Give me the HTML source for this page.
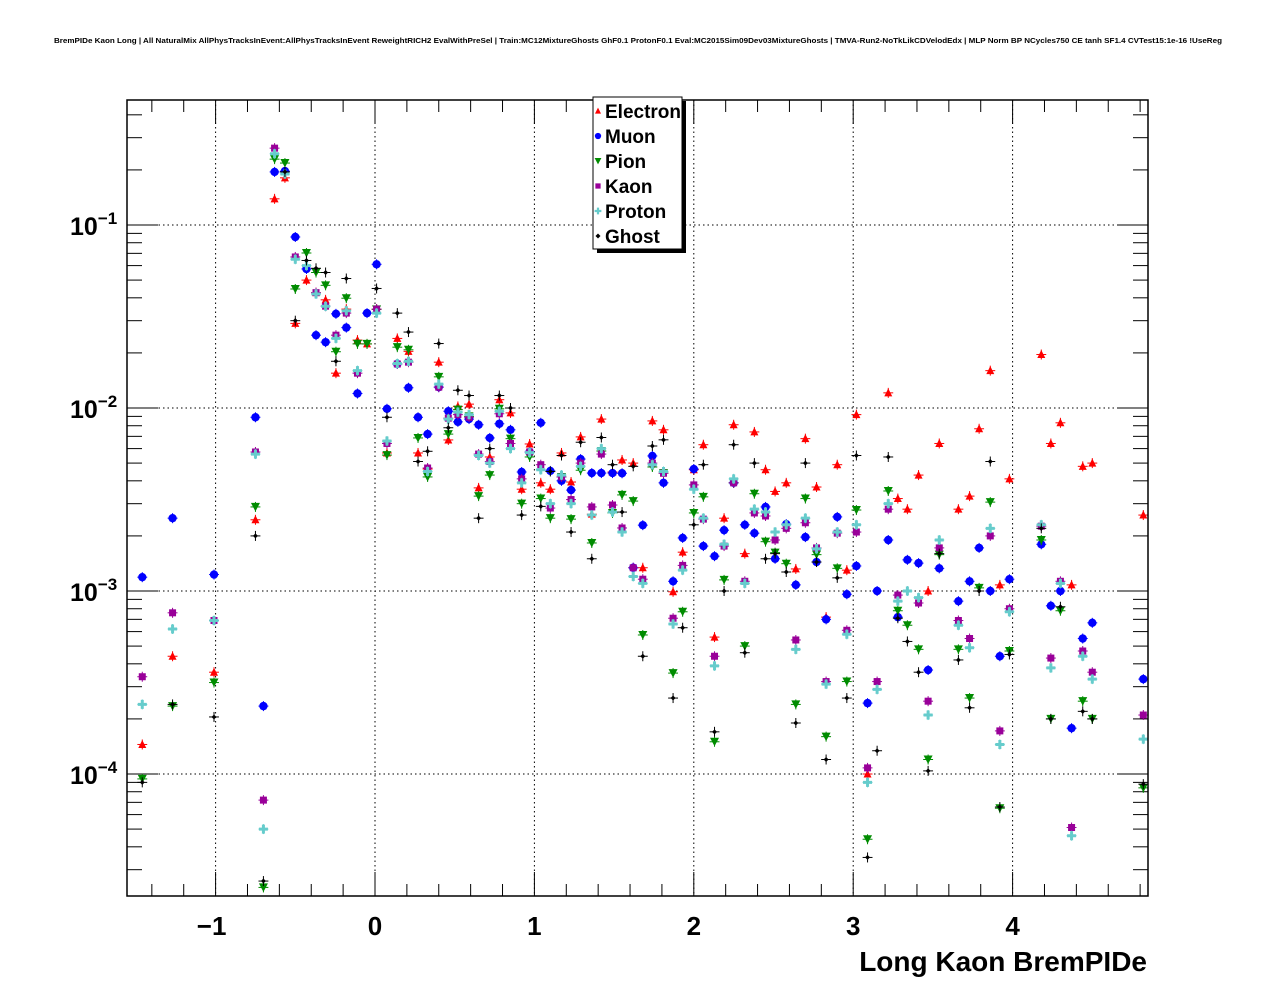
<!DOCTYPE html>
<html><head><meta charset="utf-8">
<style>
html,body{margin:0;padding:0;background:#fff;}
svg{display:block;font-family:"Liberation Sans",Arial,sans-serif;}
</style></head>
<body>
<svg id="chart" width="1276" height="996" viewBox="0 0 1276 996" xmlns="http://www.w3.org/2000/svg">
<rect x="0" y="0" width="1276" height="996" fill="#fff"/>
<text x="638" y="43" text-anchor="middle" font-size="7.5" font-weight="bold" textLength="1168" lengthAdjust="spacingAndGlyphs">BremPIDe Kaon Long | All NaturalMix AllPhysTracksInEvent:AllPhysTracksInEvent ReweightRICH2 EvalWithPreSel | Train:MC12MixtureGhosts GhF0.1 ProtonF0.1 Eval:MC2015Sim09Dev03MixtureGhosts | TMVA-Run2-NoTkLikCDVelodEdx | MLP Norm BP NCycles750 CE tanh SF1.4 CVTest15:1e-16 !UseReg</text>
<g id="grid"></g>
<g id="axes"></g>
<g id="marks"></g>
<rect x="127" y="100" width="1021" height="796" fill="none" stroke="#000" stroke-width="1.5"/>
<text x="1147" y="971" text-anchor="end" font-size="28" font-weight="bold">Long Kaon BremPIDe</text>
<g id="legend">
<rect x="597" y="101" width="89" height="152" fill="#000"/>
<rect x="593" y="97" width="89" height="152" fill="#fff" stroke="#000" stroke-width="1"/>
</g>
</svg>
<script>
// ---- data ----
const electronX=[-1.46,-1.27,-1.01,-0.75,-0.63,-0.565,-0.50,-0.43,-0.37,-0.31,-0.245,-0.18,-0.11,-0.05,0.01,0.075,0.14,0.21,0.27,0.33,0.40,0.46,0.52,0.59,0.65,0.72,0.78,0.85,0.92,0.97,1.04,1.10,1.17,1.23,1.29,1.36,1.42,1.49,1.55,1.62,1.68,1.74,1.81,1.87,1.93,2.00,2.06,2.13,2.19,2.25,2.32,2.38,2.45,2.51,2.58,2.64,2.70,2.77,2.83,2.90,2.96,3.02,3.09,3.22,3.28,3.34,3.41,3.47,3.54,3.66,3.73,3.79,3.86,3.92,3.98,4.18,4.24,4.30,4.37,4.44,4.50,4.82];
const electronY=[1.45e-4,4.4e-4,3.6e-4,2.45e-3,0.139,0.181,0.029,0.050,0.0427,0.039,0.0155,0.0347,0.0235,0.0224,0.0346,0.00568,0.024,0.0204,0.00568,0.00464,0.0178,0.00669,0.0102,0.0105,0.00366,0.0054,0.0111,0.0094,0.0036,0.00636,0.0039,0.0036,0.00568,0.00394,0.00695,0.00263,0.0087,0.00447,0.0052,0.005,0.00134,0.0085,0.0076,0.00099,0.00163,0.0046,0.0063,5.6e-4,0.0025,0.0081,0.0016,0.0074,0.0046,0.0035,0.0039,0.00132,0.0068,0.0037,7.2e-4,0.0049,0.0013,0.0092,1e-4,0.0121,0.0032,0.0028,0.0043,0.001,0.0064,0.0028,0.0033,0.0077,0.016,0.00108,0.0041,0.0196,0.0064,0.0083,0.00108,0.0048,0.005,0.0026];
const muonX=[-1.46,-1.27,-1.01,-0.75,-0.70,-0.63,-0.565,-0.50,-0.43,-0.37,-0.31,-0.245,-0.18,-0.11,-0.05,0.01,0.075,0.14,0.21,0.27,0.33,0.40,0.46,0.52,0.59,0.65,0.72,0.78,0.85,0.92,0.97,1.04,1.10,1.17,1.23,1.29,1.36,1.42,1.49,1.55,1.62,1.68,1.74,1.81,1.87,1.93,2.00,2.06,2.13,2.19,2.25,2.32,2.38,2.45,2.51,2.58,2.64,2.70,2.77,2.83,2.90,2.96,3.02,3.09,3.15,3.22,3.28,3.34,3.41,3.47,3.54,3.66,3.73,3.79,3.86,3.92,3.98,4.18,4.24,4.30,4.37,4.44,4.50,4.82];
const muonY=[0.00119,0.0025,0.00123,0.0089,2.35e-4,0.195,0.197,0.086,0.0575,0.025,0.0229,0.0327,0.0275,0.012,0.033,0.061,0.0099,0.0174,0.0129,0.0089,0.0072,0.013,0.0096,0.0084,0.0087,0.0081,0.00686,0.0082,0.0076,0.00447,0.00575,0.0083,0.00453,0.004,0.00356,0.00526,0.00441,0.00441,0.00441,0.0044,0.00134,0.00229,0.00547,0.0039,0.00113,0.00195,0.00464,0.00176,0.00155,0.00215,0.0039,0.0023,0.00207,0.00288,0.0015,0.00232,0.00108,0.00197,0.00144,7e-4,0.00254,9.6e-4,0.00137,2.44e-4,1e-3,0.0019,7.2e-4,0.00148,0.00142,3.7e-4,0.00133,8.8e-4,0.00113,0.00172,0.001,4.4e-4,0.00116,0.0018,8.3e-4,1e-3,1.78e-4,5.5e-4,6.7e-4,3.3e-4];
const pionX=[-1.46,-1.27,-1.01,-0.75,-0.70,-0.63,-0.565,-0.50,-0.43,-0.37,-0.31,-0.245,-0.18,-0.11,-0.05,0.01,0.075,0.14,0.21,0.27,0.33,0.40,0.46,0.52,0.59,0.65,0.72,0.78,0.85,0.92,0.97,1.04,1.10,1.17,1.23,1.29,1.36,1.42,1.49,1.55,1.62,1.68,1.74,1.81,1.87,1.93,2.00,2.06,2.13,2.19,2.25,2.32,2.38,2.45,2.51,2.58,2.64,2.70,2.77,2.83,2.90,2.96,3.02,3.09,3.22,3.28,3.34,3.41,3.47,3.54,3.66,3.73,3.79,3.86,3.92,3.98,4.18,4.24,4.30,4.44,4.50,4.82];
const pionY=[9.4e-5,2.35e-4,3.16e-4,2.88e-3,2.4e-5,0.229,0.218,0.0447,0.0703,0.055,0.0468,0.0203,0.0398,0.0224,0.0224,0.0346,0.00553,0.0215,0.0208,0.00686,0.0042,0.0148,0.0072,0.0098,0.009,0.0033,0.0043,0.0099,0.0068,0.003,0.0054,0.0032,0.0025,0.0042,0.00247,0.00457,0.00183,0.00582,0.00267,0.00335,0.0031,5.75e-4,0.00476,0.00441,3.56e-4,7.7e-4,0.00267,0.00327,1.5e-4,0.00115,0.0039,5e-4,0.0034,0.00186,0.00162,0.00141,2.4e-4,0.0032,0.00158,1.6e-4,0.00133,3.2e-4,0.00277,4.4e-5,0.00352,7.8e-4,6.5e-4,4.8e-4,1.2e-4,0.00158,4.8e-4,2.6e-4,0.00104,0.00306,6.5e-5,4.7e-4,0.0019,2e-4,7.8e-4,2.5e-4,2e-4,8.4e-5];
const kaonX=[-1.46,-1.27,-1.01,-0.75,-0.70,-0.63,-0.50,-0.37,-0.31,-0.245,-0.18,-0.11,0.01,0.075,0.14,0.21,0.33,0.40,0.46,0.52,0.59,0.65,0.72,0.78,0.85,0.92,0.97,1.04,1.10,1.17,1.23,1.29,1.36,1.42,1.49,1.55,1.62,1.68,1.74,1.81,1.87,1.93,2.00,2.06,2.13,2.19,2.25,2.32,2.38,2.45,2.51,2.58,2.64,2.70,2.77,2.83,2.90,2.96,3.02,3.09,3.15,3.22,3.28,3.41,3.47,3.54,3.66,3.73,3.86,3.92,3.98,4.18,4.24,4.30,4.37,4.44,4.50,4.82];
const kaonY=[3.4e-4,7.6e-4,6.9e-4,5.75e-3,7.2e-5,0.263,0.0669,0.0427,0.036,0.025,0.033,0.0155,0.0347,0.0064,0.0174,0.0178,0.0047,0.013,0.0088,0.0092,0.0089,0.0056,0.0051,0.0093,0.0064,0.0041,0.00575,0.0049,0.00284,0.0042,0.00316,0.005,0.00288,0.0056,0.00295,0.00221,0.00134,0.00116,0.005,0.0044,7.1e-4,0.00138,0.0038,0.00247,4.4e-4,0.00176,0.0039,0.00113,0.00267,0.00257,0.0019,0.0022,5.4e-4,0.00236,0.00172,3.2e-4,0.00207,6.1e-4,0.0021,1.08e-4,3.2e-4,0.0028,9.5e-4,8.6e-4,2.5e-4,0.00172,6.9e-4,5.5e-4,0.002,1.72e-4,8e-4,0.00226,4.3e-4,0.00113,5.1e-5,4.7e-4,3.6e-4,2.1e-4];
const protonX=[-1.46,-1.27,-1.01,-0.75,-0.70,-0.63,-0.565,-0.50,-0.43,-0.37,-0.31,-0.245,-0.18,-0.11,0.01,0.075,0.14,0.21,0.33,0.40,0.46,0.52,0.59,0.65,0.72,0.78,0.85,0.92,0.97,1.04,1.10,1.17,1.23,1.29,1.36,1.42,1.49,1.55,1.62,1.68,1.74,1.81,1.87,1.93,2.00,2.06,2.13,2.19,2.25,2.32,2.38,2.45,2.51,2.58,2.64,2.70,2.77,2.83,2.90,2.96,3.02,3.09,3.15,3.22,3.28,3.34,3.41,3.47,3.54,3.66,3.73,3.86,3.92,3.98,4.18,4.24,4.30,4.37,4.44,4.50,4.82];
const protonY=[2.4e-4,6.2e-4,6.9e-4,5.6e-3,5e-5,0.245,0.19,0.065,0.06,0.042,0.036,0.024,0.034,0.016,0.033,0.0066,0.0175,0.018,0.0045,0.0135,0.0087,0.0095,0.0092,0.0055,0.005,0.0096,0.006,0.0039,0.0057,0.0046,0.003,0.0043,0.003,0.0048,0.0026,0.006,0.0027,0.0021,0.0012,0.0011,0.0049,0.0045,6.6e-4,0.0013,0.0036,0.0025,3.9e-4,0.0018,0.0041,0.0011,0.0028,0.0027,0.0021,0.0023,4.8e-4,0.0025,0.0017,3.1e-4,0.0021,5.8e-4,0.0023,9e-5,2.9e-4,0.003,8.8e-4,0.001,9.2e-4,2.1e-4,0.0019,6.5e-4,4.9e-4,0.0022,1.45e-4,7.7e-4,0.0023,3.8e-4,0.0011,4.6e-5,4.4e-4,3.3e-4,1.55e-4];
const ghostX=[-1.46,-1.27,-1.01,-0.75,-0.70,-0.565,-0.50,-0.43,-0.37,-0.31,-0.245,-0.18,0.01,0.075,0.14,0.21,0.27,0.33,0.40,0.46,0.52,0.59,0.65,0.72,0.78,0.85,0.92,1.04,1.10,1.17,1.23,1.29,1.36,1.42,1.49,1.55,1.62,1.68,1.74,1.81,1.87,1.93,2.00,2.06,2.13,2.19,2.25,2.32,2.38,2.45,2.51,2.58,2.64,2.70,2.77,2.83,2.90,2.96,3.02,3.09,3.15,3.22,3.28,3.34,3.41,3.47,3.54,3.66,3.73,3.79,3.86,3.92,3.98,4.18,4.24,4.30,4.44,4.50,4.82];
const ghostY=[9e-5,2.4e-4,2.05e-4,2e-3,2.6e-5,0.195,0.03,0.064,0.058,0.055,0.018,0.051,0.045,0.0089,0.033,0.026,0.0051,0.0058,0.0225,0.0078,0.0125,0.0117,0.0025,0.006,0.0117,0.01,0.0026,0.0029,0.0045,0.0055,0.0021,0.0065,0.0015,0.0069,0.0049,0.0027,0.0048,4.4e-4,0.0062,0.0067,2.6e-4,6.3e-4,0.0023,0.0049,1.7e-4,1e-3,0.0063,4.6e-4,0.005,0.0015,0.0016,0.00127,1.9e-4,0.005,0.00144,1.2e-4,0.00118,2.6e-4,0.0055,3.5e-5,1.34e-4,0.0054,7.1e-4,5.3e-4,3.6e-4,1.04e-4,0.0016,4.2e-4,2.3e-4,0.001,0.0051,6.6e-5,4.5e-4,0.0022,2e-4,8.2e-4,2.2e-4,2e-4,8.8e-5];
const seriesNames=["Electron","Muon","Pion","Kaon","Proton","Ghost"];
const xTickLabels=["\u22121","0","1","2","3","4"];
const yTickExps=[-1,-2,-3,-4];

// ---- scales ----
const X0=127,X1=1148,Y0=100,Y1=896;
function xs(v){return 375+v*159.4;}
function ys(v){return 42-183*Math.log10(v);}
const NS="http://www.w3.org/2000/svg";
function mk(tag,attrs,parent){const e=document.createElementNS(NS,tag);for(const k in attrs)e.setAttribute(k,attrs[k]);parent.appendChild(e);return e;}
const grid=document.getElementById('grid'),axes=document.getElementById('axes'),marks=document.getElementById('marks'),legend=document.getElementById('legend');

// grid
for(let v=-1;v<=4;v++){const l=mk('line',{x1:xs(v),x2:xs(v),y1:Y0,y2:Y1,stroke:'#000','stroke-width':1,'stroke-dasharray':'1.5,3'},grid);

}
yTickExps.forEach(e=>{const y=ys(Math.pow(10,e));const l=mk('line',{x1:X0,x2:X1,y1:y,y2:y,stroke:'#000','stroke-width':1,'stroke-dasharray':'1.5,3'},grid);

});

// x ticks
for(let i=-8;i<=24;i++){const v=i*0.2;const x=xs(v);if(x<X0||x>X1)continue;const major=(i%5===0);const len=major?24:12;
mk('line',{x1:x,x2:x,y1:Y1,y2:Y1-len,stroke:'#000','stroke-width':1},axes);
mk('line',{x1:x,x2:x,y1:Y0,y2:Y0+len,stroke:'#000','stroke-width':1},axes);}
xTickLabels.forEach((t,i)=>{const tx=mk('text',{x:xs(i-1)-(i===0?4:0),y:935,'text-anchor':'middle','font-size':26,'font-weight':'bold'},axes);tx.textContent=t;

});

// y ticks
for(let d=-5;d<=0;d++){for(let m=1;m<=9;m++){const v=m*Math.pow(10,d);const y=ys(v);if(y<Y0||y>Y1)continue;const len=(m===1)?31:15;
mk('line',{x1:X0,x2:X0+len,y1:y,y2:y,stroke:'#000','stroke-width':1},axes);
mk('line',{x1:X1,x2:X1-len,y1:y,y2:y,stroke:'#000','stroke-width':1},axes);}}
yTickExps.forEach(e=>{const y=ys(Math.pow(10,e));const tx=mk('text',{x:70,y:y+10,'font-size':25,'font-weight':'bold'},axes);


const a=document.createElementNS(NS,'tspan');a.textContent='10';tx.appendChild(a);
const b=document.createElementNS(NS,'tspan');b.setAttribute('dy','-11');b.setAttribute('font-size','17');b.textContent='\u2212'+(-e);tx.appendChild(b);});

// markers
function marker(kind,x,y,parent){
  if(kind==='Electron')return mk('polygon',{points:`${x-4},${y+3.5} ${x+4},${y+3.5} ${x},${y-4.5}`,fill:'#ff0000'},parent);
  if(kind==='Muon')return mk('circle',{cx:x,cy:y,r:4.2,fill:'#0000ff'},parent);
  if(kind==='Pion')return mk('polygon',{points:`${x-4.5},${y-4} ${x+4.5},${y-4} ${x},${y+4.5}`,fill:'#008c00'},parent);
  if(kind==='Kaon')return mk('rect',{x:x-3.5,y:y-3.5,width:7,height:7,fill:'#990099'},parent);
  if(kind==='Proton')return mk('path',{d:`M${x-4.5},${y-1.5}h3v-3h3v3h3v3h-3v3h-3v-3h-3z`,fill:'#66cccc'},parent);
  return mk('polygon',{points:`${x-2.5},${y} ${x},${y-2.5} ${x+2.5},${y} ${x},${y+2.5}`,fill:'#000'},parent);
}
const colors={Electron:'#ff0000',Muon:'#0000ff',Pion:'#008c00',Kaon:'#990099',Proton:'#66cccc',Ghost:'#000'};
const sx={Electron:electronX,Muon:muonX,Pion:pionX,Kaon:kaonX,Proton:protonX,Ghost:ghostX};
const sy={Electron:electronY,Muon:muonY,Pion:pionY,Kaon:kaonY,Proton:protonY,Ghost:ghostY};
seriesNames.forEach(name=>{
  const g=mk('g',{},marks);
  
  
  const X=sx[name],Y=sy[name];
  for(let i=0;i<X.length;i++){
    const x=xs(X[i]),y=ys(Y[i]);
    if(y<Y0||y>Y1)continue;
    mk('line',{x1:xs(X[i]-0.031),x2:xs(X[i]+0.031),y1:y,y2:y,stroke:colors[name],'stroke-width':1},g);
    mk('line',{x1:x,x2:x,y1:y-5,y2:y+5,stroke:colors[name],'stroke-width':1},g);
    const m=marker(name,x,y,g);
    
    
  }
});

// legend entries
seriesNames.forEach((name,i)=>{
  const y=111+i*25;
  const g=mk('g',{},legend);
  
  
  const s=(name==='Ghost')?1:0.75;
  marker(name,598,y,g).setAttribute('transform',`translate(${598*(1-s)},${y*(1-s)}) scale(${s})`);
  const t=mk('text',{x:605,y:y+7,'font-size':19,'font-weight':'bold'},g);t.textContent=name;
});
</script>
</body></html>
